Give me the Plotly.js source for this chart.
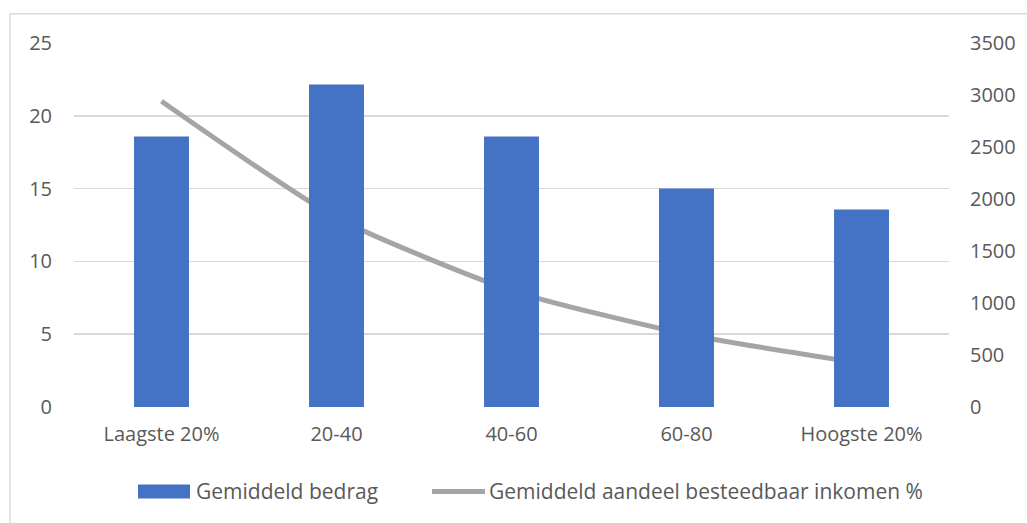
<!DOCTYPE html>
<html>
<head>
<meta charset="utf-8">
<script src="https://cdn.plot.ly/plotly-3.0.1.min.js"></script>
<style>html,body{margin:0;padding:0;background:#fff;}#chart{width:1027px;height:523px;}</style>
</head>
<body>
<div id="chart"></div>
<script>
var categories = ["Laagste 20%", "20-40", "40-60", "60-80", "Hoogste 20%"];
var bedrag = [2600, 3100, 2600, 2100, 1900];
var aandeel = [21, 13, 8, 5, 3];
var leftTicks = [0, 5, 10, 15, 20, 25];
var rightTicks = [0, 500, 1000, 1500, 2000, 2500, 3000, 3500];

var FONT = "Open Sans";
var TXT = "#595959";
var FS = 20;
var LFS = 21;
var BAR_COLOR = "#4472C4";
var LINE_COLOR = "#A5A5A5";

var traces = [
  {
    type: "bar", name: "Gemiddeld bedrag", x: categories, y: bedrag, yaxis: "y2",
    marker: {color: BAR_COLOR}
  },
  {
    type: "scatter", mode: "lines", name: "Gemiddeld aandeel besteedbaar inkomen %",
    x: categories, y: aandeel, yaxis: "y",
    line: {color: LINE_COLOR, width: 5, shape: "spline", smoothing: 0.6}
  }
];

// paper-coordinate helpers (plot area: x 74..949 px, y 43.3..406.7 px)
function px(x) { return (x - 74) / 875; }
function py(y) { return (406.7 - y) / 363.4; }

var layout = {
  width: 1027, height: 523,
  margin: {l: 74, r: 78, t: 43.3, b: 116.3},
  paper_bgcolor: "#ffffff", plot_bgcolor: "#ffffff",
  font: {family: FONT, size: FS, color: TXT},
  showlegend: false,
  bargap: 0.686,
  xaxis: {
    type: "category", showgrid: false, zeroline: false, showline: false, ticks: "",
    ticklabelstandoff: 13, tickfont: {family: FONT, size: FS, color: TXT}
  },
  yaxis: {
    range: [0, 25], tickvals: leftTicks, ticktext: leftTicks.map(String),
    showgrid: true, gridcolor: "#D9D9D9", gridwidth: 1.5, zeroline: false, showline: false, ticks: "",
    ticklabelstandoff: 21, tickfont: {family: FONT, size: FS, color: TXT}
  },
  yaxis2: {
    overlaying: "y", side: "right", range: [0, 3500], tickvals: rightTicks, ticktext: rightTicks.map(String),
    showgrid: false, zeroline: false, showline: false, ticks: "",
    ticklabelstandoff: 20, tickfont: {family: FONT, size: FS, color: TXT}
  },
  shapes: [
    {type: "line", xref: "paper", yref: "paper", x0: px(10), x1: px(1100), y0: py(14), y1: py(14),
     line: {color: "#D9D9D9", width: 1.5}},
    {type: "line", xref: "paper", yref: "paper", x0: px(10), x1: px(10), y0: py(14), y1: py(600),
     line: {color: "#D9D9D9", width: 1.5}},
    // legend symbols
    {type: "rect", xref: "paper", yref: "paper", x0: px(138), x1: px(190), y0: py(498), y1: py(484),
     fillcolor: BAR_COLOR, line: {width: 0}},
    {type: "line", xref: "paper", yref: "paper", x0: px(432), x1: px(485), y0: py(491), y1: py(491),
     line: {color: LINE_COLOR, width: 5}}
  ],
  annotations: [
    {xref: "paper", yref: "paper", x: px(194), y: py(491), xanchor: "left", yanchor: "middle",
     text: traces[0].name, showarrow: false, font: {family: FONT, size: LFS, color: TXT}},
    {xref: "paper", yref: "paper", x: px(487), y: py(491), xanchor: "left", yanchor: "middle",
     text: traces[1].name, showarrow: false, font: {family: FONT, size: LFS, color: TXT}}
  ]
};

Plotly.newPlot("chart", traces, layout, {displayModeBar: false, staticPlot: true});
</script>
</body>
</html>
